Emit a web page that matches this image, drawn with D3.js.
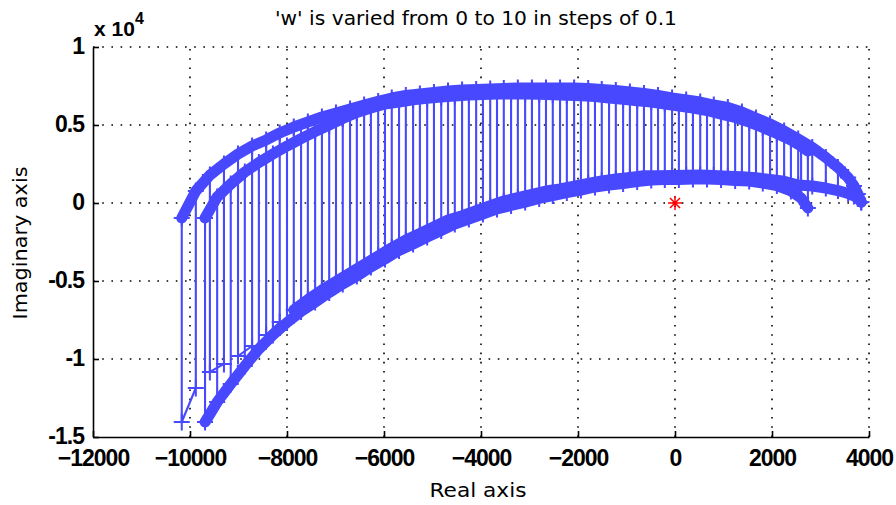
<!DOCTYPE html>
<html>
<head>
<meta charset="utf-8">
<script src="https://cdn.jsdelivr.net/npm/d3@7"></script>
<style>
  body { margin: 0; background: #fff; }
  svg { display: block; }
  .tick-label { font-family: "Liberation Sans", Arial, sans-serif; font-weight: bold; font-size: 23px; letter-spacing: -1px; }
  .lbl { font-family: "DejaVu Sans", sans-serif; font-size: 19px; }
</style>
</head>
<body>
<svg id="chart"></svg>
<script>
// real / imaginary parts, two traces (outer and inner)
const reA = [-10170, -9880, -9590, -9300, -9010, -8720, -8430, -8150, -7860, -7570, -7280, -6990, -6700, -6410, -6120, -5840, -5550, -5260, -4970, -4680, -4390, -4100, -3810, -3530, -3240, -2950, -2660, -2370, -2080, -1790, -1510, -1220, -930, -640, -350, -60, 230, 520, 800, 1090, 1380, 1670, 1960, 2250, 2540, 2830, 3110, 3360, 3570, 3690, 3770, 3840];
const upA = [-960, 770, 1790, 2500, 3140, 3650, 4040, 4490, 4870, 5190, 5510, 5770, 6030, 6280, 6510, 6730, 6890, 6990, 7080, 7180, 7240, 7280, 7310, 7340, 7370, 7370, 7370, 7370, 7370, 7340, 7280, 7210, 7120, 7020, 6890, 6730, 6600, 6470, 6280, 6120, 5830, 5450, 5060, 4620, 4100, 3560, 2920, 2280, 1630, 1090, 580, 60];
const loA = [-14040, -11860, -10830, -10320, -9810, -9170, -8460, -7630, -6860, -6190, -5580, -5030, -4490, -3940, -3400, -2870, -2370, -1950, -1520, -1090, -810, -490, -170, 130, 340, 560, 770, 900, 1080, 1260, 1420, 1540, 1640, 1750, 1740, 1760, 1780, 1790, 1760, 1720, 1690, 1620, 1510, 1390, 1150, 1090, 960, 800, 610, 450, 290, 60];

const reB = [-9690, -9440, -9160, -8870, -8580, -8290, -8000, -7710, -7420, -7130, -6850, -6560, -6270, -5980, -5690, -5400, -5110, -4820, -4540, -4250, -3960, -3670, -3380, -3090, -2800, -2520, -2230, -1940, -1650, -1360, -1070, -780, -490, -210, 80, 370, 660, 950, 1240, 1530, 1810, 2100, 2390, 2600, 2740];
const upB = [-960, 380, 1220, 1990, 2600, 3140, 3650, 4130, 4580, 5000, 5420, 5800, 6090, 6350, 6470, 6620, 6710, 6790, 6860, 6920, 6950, 6990, 6990, 6990, 6970, 6940, 6910, 6880, 6830, 6730, 6650, 6560, 6470, 6350, 6220, 6090, 5930, 5700, 5480, 5190, 4840, 4460, 4040, 3650, 3330];
const loB = [-14040, -12760, -11600, -10450, -9360, -8460, -7660, -6950, -6350, -5740, -5190, -4680, -4100, -3590, -3040, -2630, -2180, -1760, -1350, -1030, -710, -380, -160, 60, 290, 480, 670, 830, 1030, 1150, 1250, 1380, 1470, 1510, 1510, 1540, 1540, 1510, 1440, 1410, 1280, 1120, 770, 320, -320];

const origin = [0, 0];
const xTicks = [-12000, -10000, -8000, -6000, -4000, -2000, 0, 2000, 4000];
const yTicks = [-15000, -10000, -5000, 0, 5000, 10000];
const yTickLabels = ['-1.5', '-1', '-0.5', '0', '0.5', '1'];

const width = 896, height = 505;
const m = {left: 93, right: 27, top: 47, bottom: 68};
const blue = '#4848ff';

const svg = d3.select('#chart').attr('width', width).attr('height', height);

const x = d3.scaleLinear().domain([-12000, 4000]).range([m.left, width - m.right]);
const y = d3.scaleLinear().domain([-15000, 10000]).range([height - m.bottom, m.top]);

// dotted grid
const grid = svg.append('g')
    .attr('stroke', '#000')
    .attr('stroke-width', 1.6)
    .attr('stroke-dasharray', '1.6,7.6');
grid.selectAll('line.gx').data(xTicks.slice(1)).join('line')
    .attr('class', 'gx')
    .attr('x1', d => x(d)).attr('x2', d => x(d))
    .attr('y1', y.range()[0]).attr('y2', y.range()[1]);
grid.selectAll('line.gy').data(yTicks.slice(1)).join('line')
    .attr('class', 'gy')
    .attr('y1', d => y(d)).attr('y2', d => y(d))
    .attr('x1', x.range()[0]).attr('x2', x.range()[1]);

// one trace: thick arcs + zigzag between upper and lower + '+' markers
function drawTrace(re, up, lo, lowerBandFrom) {
    const g = svg.append('g');
    const pts = [];
    re.forEach((r, i) => {
        if (i % 2 === 0) { pts.push([r, up[i]], [r, lo[i]]); }
        else { pts.push([r, lo[i]], [r, up[i]]); }
    });
    const line = d3.line().x(d => x(d[0])).y(d => y(d[1]));

    const band = (vals, from) => g.append('path')
        .attr('d', line(vals.map((v, i) => [re[i], v]).slice(from)))
        .attr('fill', 'none').attr('stroke', blue).attr('stroke-width', 11)
        .attr('stroke-linejoin', 'round').attr('stroke-linecap', 'round');
    band(up, 0);
    band(lo, lowerBandFrom);

    g.append('path').attr('d', line(pts))
        .attr('fill', 'none').attr('stroke', blue).attr('stroke-width', 2.1);
    g.selectAll('path.mk').data(pts).join('path')
        .attr('class', 'mk')
        .attr('transform', d => `translate(${x(d[0])},${y(d[1])})`)
        .attr('d', 'M-8,0H8M0,-8.5V8.5')
        .attr('stroke', blue).attr('stroke-width', 2);
}
drawTrace(reA, upA, loA, 8);
drawTrace(reB, upB, loB, 0);

// red star at the critical point
svg.append('path')
    .attr('transform', `translate(${x(origin[0])},${y(origin[1])})`)
    .attr('d', 'M-7,0H7M0,-7V7M-5,-5L5,5M-5,5L5,-5')
    .attr('stroke', '#ff0000').attr('stroke-width', 1.5).attr('fill', 'none');

// axes (left and bottom only, ticks inside)
const xAxis = svg.append('g').attr('transform', `translate(0,${y.range()[0]})`)
    .call(d3.axisBottom(x).tickValues(xTicks).tickFormat(d3.format('d'))
        .tickSizeInner(-6).tickSizeOuter(0).tickPadding(13));
const yAxis = svg.append('g').attr('transform', `translate(${x.range()[0]},0)`)
    .call(d3.axisLeft(y).tickValues(yTicks).tickFormat((d, i) => yTickLabels[i])
        .tickSizeInner(-6).tickSizeOuter(0).tickPadding(9));
[xAxis, yAxis].forEach(a => {
    a.attr('font-family', null).attr('font-size', null);
    a.select('.domain').attr('stroke', '#000').attr('stroke-width', 1.6);
    a.selectAll('.tick line').attr('stroke', '#000').attr('stroke-width', 1.6);
    a.selectAll('.tick text').attr('class', 'tick-label').attr('fill', '#000');
});
yAxis.selectAll('.tick text').attr('dy', '0.3em');

// exponent label
const expo = svg.append('text').attr('class', 'tick-label')
    .attr('x', 94).attr('y', 36).style('font-size', '21px').style('letter-spacing', '0');
expo.append('tspan').text('x 10');
expo.append('tspan').attr('dy', -12).style('font-size', '16px').text('4');

// title and axis labels
svg.append('text').attr('class', 'lbl').attr('x', 476).attr('y', 25)
    .attr('text-anchor', 'middle').attr('textLength', 402).attr('lengthAdjust', 'spacingAndGlyphs')
    .text("'w' is varied from 0 to 10 in steps of 0.1");
svg.append('text').attr('class', 'lbl').attr('x', 478).attr('y', 497)
    .attr('text-anchor', 'middle').attr('textLength', 97).attr('lengthAdjust', 'spacingAndGlyphs')
    .text('Real axis');
svg.append('text').attr('class', 'lbl')
    .attr('transform', 'translate(27,243) rotate(-90)')
    .attr('text-anchor', 'middle').attr('textLength', 153).attr('lengthAdjust', 'spacingAndGlyphs')
    .text('Imaginary axis');
</script>
</body>
</html>
